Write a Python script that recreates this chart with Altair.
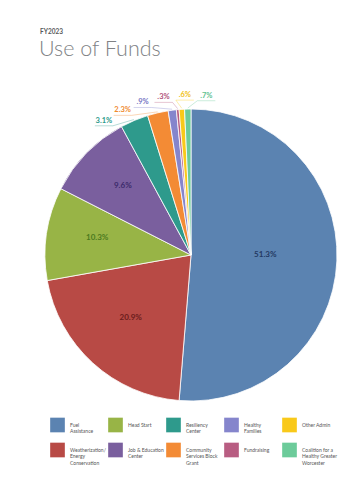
import altair as alt
import pandas as pd

# ---------------- data ----------------
categories = [
    "Fuel Assistance",
    "Weatherization/Energy Conservation",
    "Head Start",
    "Job & Education Center",
    "Resiliency Center",
    "Community Services Block Grant",
    "Healthy Families",
    "Fundraising",
    "Other Admin",
    "Coalition for a Healthy Greater Worcester",
]
values = [51.3, 20.9, 10.3, 9.6, 3.1, 2.3, 0.9, 0.3, 0.6, 0.7]
value_labels = ["51.3%", "20.9%", "10.3%", "9.6%", "3.1%", "2.3%", ".9%", ".3%", ".6%", ".7%"]
legend_labels = [
    "Fuel\nAssistance",
    "Weatherization/\nEnergy\nConservation",
    "Head Start",
    "Job & Education\nCenter",
    "Resiliency\nCenter",
    "Community\nServices Block\nGrant",
    "Healthy\nFamilies",
    "Fundraising",
    "Other Admin",
    "Coalition for a\nHealthy Greater\nWorcester",
]
slice_colors = ["#5b83b1", "#b84a45", "#98b446", "#7a5f9e", "#2e9a8c",
                "#f38b35", "#8585cc", "#b85d82", "#f9c91a", "#6ccb9a"]
label_colors = ["#233a63", "#6b1c1c", "#4c7a1f", "#3b2a6b", "#2a9a8a",
                "#ef8a2e", "#7676c4", "#b0517a", "#f0c010", "#5fc190"]
title_small = ["FY2023"]
title_big = ["Use of Funds"]

df = pd.DataFrame({
    "idx": list(range(len(categories))),
    "category": categories,
    "value": values,
    "vlabel": value_labels,
    "legend": legend_labels,
    "scol": slice_colors,
    "lcol": label_colors,
})

# ---------------- layout ----------------
W, H = 343, 464
CX, CY, R = 183, 247, 146
FONT = "Lato"

X = lambda f: alt.X(f, scale=None, axis=None)
Y = lambda f: alt.Y(f, scale=None, axis=None)

base = (
    alt.Chart(df)
    .transform_joinaggregate(total="sum(value)")
    .transform_window(cum="sum(value)", sort=[alt.SortField("idx", order="ascending")], frame=[None, 0])
    .transform_calculate(mid="(datum.cum - datum.value/2) / datum.total * 2 * PI")
)

pie = alt.Chart(df).mark_arc(outerRadius=R, stroke="white", strokeWidth=0.8).encode(
    theta=alt.Theta("value:Q", stack=True),
    color=alt.Color("scol:N", scale=None, legend=None),
    order=alt.Order("idx:Q", sort="ascending"),
    x=alt.value(CX),
    y=alt.value(CY),
)

inside = (
    base.transform_filter("datum.value >= 5")
    .transform_calculate(
        r=f"{R} - 46 - 0.5 * datum.value",
        lx=f"{CX} + datum.r * sin(datum.mid)",
        ly=f"{CY} - datum.r * cos(datum.mid) - 3",
    )
    .mark_text(font=FONT, fontSize=8, fontWeight="bold", baseline="middle", align="center")
    .encode(x=X("lx:Q"), y=Y("ly:Q"), text="vlabel:N", color=alt.Color("lcol:N", scale=None, legend=None))
)

outer_base = (
    base.transform_filter("datum.value < 5")
    .transform_window(k="row_number()", sort=[alt.SortField("idx", order="ascending")])
    .transform_calculate(
        la="(327 + 7.7 * (datum.k - 1)) * PI / 180",
        lx=f"{CX} + 160 * sin(datum.la)",
        ly=f"{CY} - 160 * cos(datum.la)",
        ex=f"{CX} + {R + 1} * sin(datum.mid)",
        ey=f"{CY} - {R + 1} * cos(datum.mid)",
        ux1="datum.lx - 9",
        ux2="datum.lx + 9",
        uy="datum.ly + 5",
        cx0="datum.ex > datum.lx ? datum.lx + 9 : datum.lx - 9",
    )
)

outside_text = outer_base.mark_text(
    font=FONT, fontSize=7.5, fontWeight="bold", baseline="middle", align="center"
).encode(x=X("lx:Q"), y=Y("ly:Q"), text="vlabel:N", color=alt.Color("lcol:N", scale=None, legend=None))

underline = outer_base.mark_rule(strokeWidth=0.6, opacity=0.6).encode(
    x=X("ux1:Q"), x2="ux2:Q", y=Y("uy:Q"), y2="uy:Q",
    color=alt.Color("scol:N", scale=None, legend=None),
)
connector = outer_base.mark_rule(strokeWidth=0.6, opacity=0.6).encode(
    x=X("cx0:Q"), x2="ex:Q", y=Y("uy:Q"), y2="ey:Q",
    color=alt.Color("scol:N", scale=None, legend=None),
)

leg_base = alt.Chart(df).transform_calculate(
    col="floor(datum.idx / 2)",
    row="datum.idx % 2",
    sx="49.5 + 58 * datum.col",
    tx="62 + 58 * datum.col",
    sy="417 + 25 * datum.row",
    lines="split(datum.legend, '\\n')",
)
leg_sq = leg_base.mark_square(size=215, opacity=1).encode(
    x=X("sx:Q"), y=Y("sy:Q"), color=alt.Color("scol:N", scale=None, legend=None)
)
leg_txt = leg_base.mark_text(
    font=FONT, fontSize=5, align="left", baseline="middle", lineHeight=6.3, color="#555555"
).encode(x=X("tx:Q"), y=Y("sy:Q"), text="lines:N")

t1 = alt.Chart(pd.DataFrame({"t": title_small})).mark_text(
    font=FONT, fontSize=6.5, fontWeight="bold", align="left", baseline="alphabetic", color="#58595b"
).encode(x=alt.value(32), y=alt.value(26), text="t:N")
t2 = alt.Chart(pd.DataFrame({"t": title_big})).mark_text(
    font=FONT, fontSize=21.5, fontWeight=300, align="left", baseline="alphabetic", color="#808285"
).encode(x=alt.value(31), y=alt.value(48), text="t:N")

chart = (
    alt.layer(pie, inside, underline, connector, outside_text, leg_sq, leg_txt, t1, t2)
    .properties(width=W, height=H, autosize=alt.AutoSizeParams(type="none"), padding=0)
    .configure_view(stroke=None)
)

chart.save("out.html", embed_options={"renderer": "svg", "actions": False})
